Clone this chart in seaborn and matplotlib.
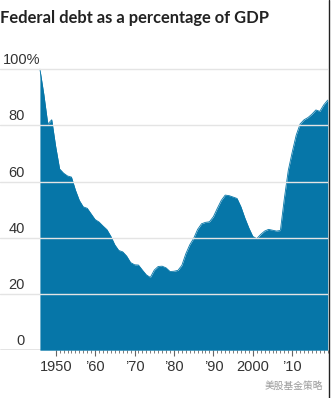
import matplotlib
matplotlib.use("Agg")
import matplotlib.pyplot as plt
import seaborn as sns
import pandas as pd

# Federal debt as a share of GDP, by year
years = list(range(1946, 2020))
debt_pct = [
    100, 91, 80.5, 82, 72.5, 64.5, 63, 62, 61.6, 57,
    53.3, 51, 50.5, 48.5, 46.5, 45.6, 44.2, 42.9, 40.5, 37.5,
    35.5, 35, 33.5, 31.2, 30.4, 30.3, 28.5, 26.8, 25.9, 28.5,
    29.8, 29.9, 29.3, 28, 28.1, 28.4, 30.2, 34.3, 37.5, 39.8,
    43, 45, 45.5, 45.7, 47.5, 50.5, 53.3, 55.2, 55, 54.5,
    54, 51, 47, 43.5, 40.5, 39.7, 41.2, 42.4, 43, 42.7,
    42.4, 42.6, 54, 64, 70.5, 76.5, 80.5, 82, 82.8, 84,
    85.5, 85, 87.3, 89,
]
y_ticks = [0, 20, 40, 60, 80, 100]
y_tick_labels = ["0", "20", "40", "60", "80", "100%"]
x_ticks = [1950, 1960, 1970, 1980, 1990, 2000, 2010]
x_tick_labels = ["1950", "\u201960", "\u201970", "\u201980", "\u201990", "2000", "\u201910"]

df = pd.DataFrame({"year": years, "debt": debt_pct})

sns.set_theme(style="white")
plt.rcParams["font.family"] = ["Liberation Sans", "DejaVu Sans"]

W, H, DPI = 331, 398, 100
fig = plt.figure(figsize=(W / DPI, H / DPI), dpi=DPI)

blue = "#0676a8"
grid_c = "#e4e4e4"
text_c = "#333333"

# axes geometry in pixels
x_left_px, x_right_px = 0, 327.7
y_zero_px, px_per_unit = 350.2, 2.81
y_top_lim = 102
ax_bottom = (H - y_zero_px) / H
ax_height = y_top_lim * px_per_unit / H
ax = fig.add_axes([x_left_px / W, ax_bottom, (x_right_px - x_left_px) / W, ax_height])

px_per_year = 3.95
x_start = 1946 - (40 - x_left_px) / px_per_year
ax.set_xlim(x_start, 2019)
ax.set_ylim(0, y_top_lim)

# filled area
sns.lineplot(data=df, x="year", y="debt", ax=ax, color=blue, lw=0.6)
ax.fill_between(df["year"], 0, df["debt"], color=blue, lw=0, zorder=2)

# horizontal gridlines over the area
for v in y_ticks[1:]:
    ax.axhline(v, color=grid_c, lw=1.0, zorder=3)
ax.axhline(0, color="#777777", lw=1.0, zorder=1)

# y labels sitting above their gridlines
for v, lab in zip(y_ticks, y_tick_labels):
    if lab.endswith("%"):
        ax.annotate(lab, xy=(0, v), xycoords=("axes fraction", "data"),
                    xytext=(3, 2), textcoords="offset pixels",
                    ha="left", va="bottom", fontsize=10.5, color=text_c)
    else:
        ax.annotate(lab, xy=(0, v), xycoords=("axes fraction", "data"),
                    xytext=(25, 2), textcoords="offset pixels",
                    ha="right", va="bottom", fontsize=10.5, color=text_c)

# x axis ticks
ax.set_yticks([])
ax.set_xticks(x_ticks)
ax.set_xticklabels(x_tick_labels, fontsize=10.5, color=text_c)
ax.set_xticks(list(range(1950, 2020)), minor=True)
ax.tick_params(axis="x", which="major", direction="out", length=4, width=0.8,
               color="#666666", pad=3, bottom=True)
ax.tick_params(axis="x", which="minor", direction="out", length=2.2, width=0.6,
               color="#666666", bottom=True)
ax.set_xlabel("")
ax.set_ylabel("")
for s in ax.spines.values():
    s.set_visible(False)

# title
fig.text(0.5 / W, 1 - 17.5 / H, "Federal debt as a percentage of GDP",
         fontsize=11.9, fontweight="bold", color="#222222",
         family=["Lato", "DejaVu Sans"], ha="left", va="center")

# source mark
fig.text(323 / W, 1 - 386 / H, "美股基金策略", fontsize=7,
         color="#9a9a9a", family=["Noto Sans CJK SC", "DejaVu Sans"],
         ha="right", va="center")

# right frame line
fig.add_artist(plt.Line2D([328.8 / W, 328.8 / W], [0, 1], color="#222222",
                          lw=1.0, transform=fig.transFigure))

fig.savefig("out.png", dpi=DPI)
